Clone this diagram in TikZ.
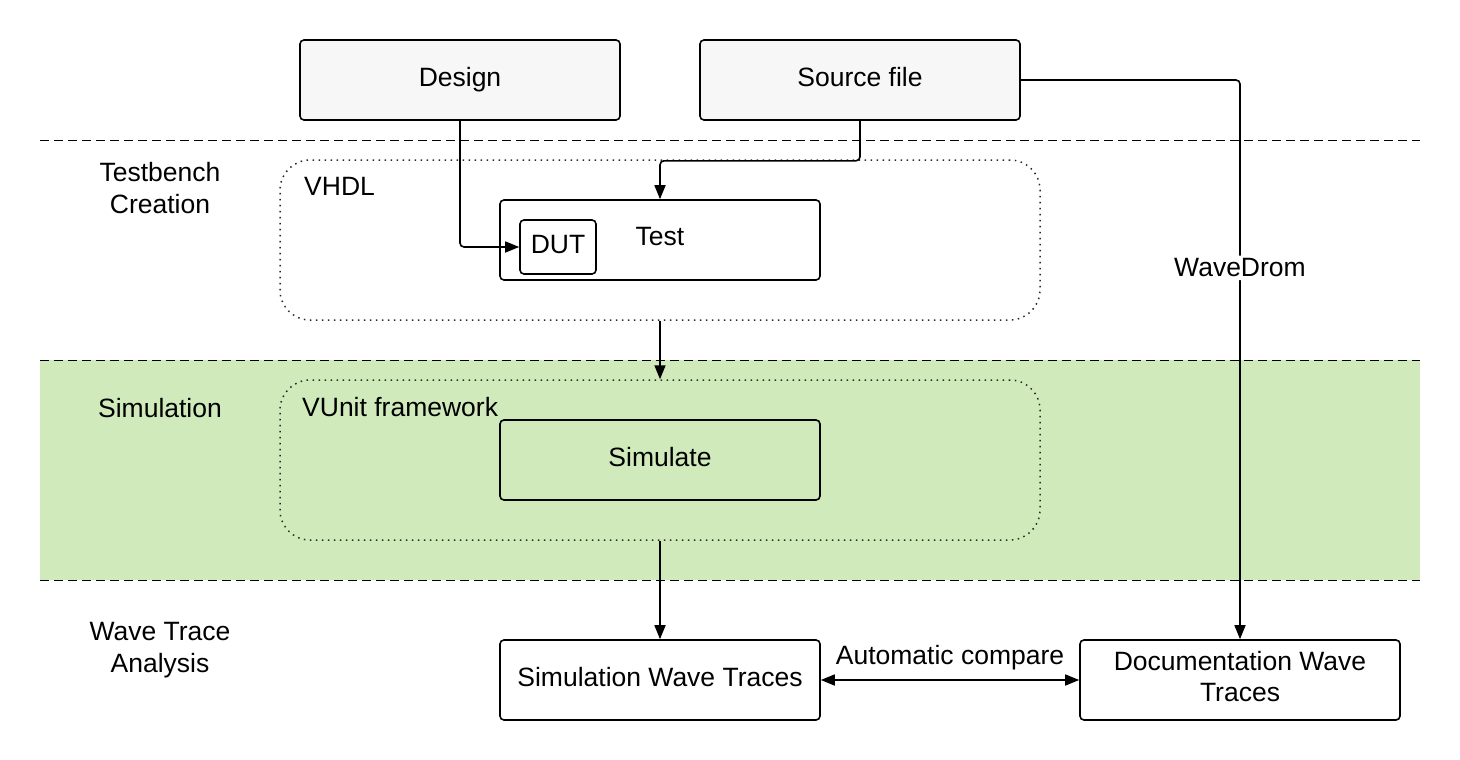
\documentclass[tikz,border=0pt]{standalone}
\usepackage{fontspec}
\setmainfont{Liberation Sans}
\usetikzlibrary{arrows.meta}
\definecolor{bandgreen}{RGB}{209,234,188}
\definecolor{lightgray}{RGB}{247,247,247}
\tikzset{
  box/.style={draw=black, line width=1.6pt, rounded corners=4pt, minimum width=320pt, minimum height=80pt, inner sep=0pt, align=center, font=\fontsize{26.5}{31}\selectfont},
  onel/.style={text height=18pt, text depth=6pt},
  topbox/.style={box, onel, fill=lightgray},
  container/.style={draw=black!85, line width=1.5pt, dash pattern=on 1.5pt off 4.5pt, rounded corners=30pt, minimum width=760pt, minimum height=160pt, inner sep=0pt},
  sep/.style={draw=black, line width=1pt, dash pattern=on 9pt off 5pt},
  arr/.style={draw=black, line width=1.6pt, rounded corners=4pt, -{Triangle[length=14pt,width=11pt]}},
  darr/.style={draw=black, line width=1.6pt, {Triangle[length=14pt,width=11pt]}-{Triangle[length=14pt,width=11pt]}},
  lbl/.style={font=\fontsize{26.5}{32}\selectfont, align=center, inner sep=1pt},
}
\begin{document}
\begin{tikzpicture}[x=1pt,y=-1pt]
\useasboundingbox (0,0) rectangle (1460,760);
% green band
\fill[bandgreen] (40,360) rectangle (1420,580);
% separators
\draw[sep] (40,140) -- (1420,140);
\draw[sep] (40,360) -- (1420,360);
\draw[sep] (40,580) -- (1420,580);
% stage labels
\node[lbl] (lTB) at (160,188) {Testbench\\Creation};
\node[lbl] (lSim) at (160,408) {Simulation};
\node[lbl] (lWTA) at (160,650) {Wave Trace\\Analysis};
% top boxes
\node[topbox] (design) at (460,80) {Design};
\node[topbox] (src) at (860,80) {Source file};
% containers
\node[container] (vhdl) at (660,240) {};
\node[lbl, anchor=west] (vhdllbl) at (303,186) {VHDL};
\node[container] (vunit) at (660,460) {};
\node[lbl, anchor=west] (vunitlbl) at (301,407) {VUnit framework};
% inner boxes
\node[box, fill=white] (test) at (660,240) {};
\node[lbl] (testlbl) at (660,237) {Test};
\node[box, fill=white, minimum width=76pt, minimum height=54pt] (dut) at (558,247) {};
\node[lbl] (dutlbl) at (558,245) {DUT};
\node[box, onel, fill=bandgreen] (sim) at (660,460) {Simulate};
\node[box, onel, fill=white] (swt) at (660,680) {Simulation Wave Traces};
\node[box, fill=white] (dwt) at (1240,680) {};
\node[lbl, font=\fontsize{26.5}{31}\selectfont] (dwtlbl) at (1240,676.5) {Documentation Wave\\Traces};
% connectors
\draw[arr] (design.south) |- (dut.west);
\draw[arr] (src.south) -- ++(0,40) -| (test.north);
\draw[arr] (vhdl.south) -- (vunit.north);
\draw[arr] (vunit.south) -- (swt.north);
\draw[arr] (src.east) -| (dwt.north) node[pos=0.668, lbl, fill=white, inner sep=3pt] (wd) {WaveDrom};
\draw[darr] (swt.east) -- (dwt.west) node[midway, above=8pt, lbl] (ac) {Automatic compare};
\end{tikzpicture}
\end{document}
